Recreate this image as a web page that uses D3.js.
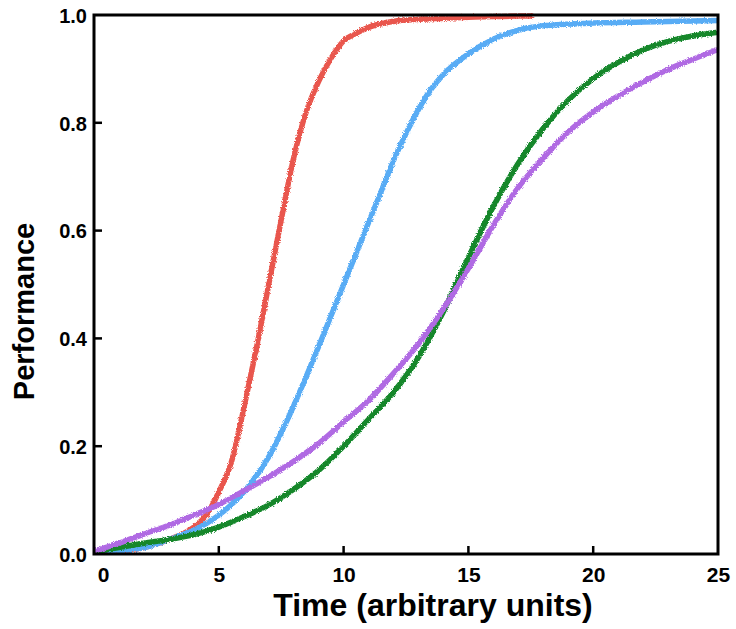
<!DOCTYPE html>
<html>
<head>
<meta charset="utf-8">
<script src="https://cdn.jsdelivr.net/npm/d3@7/dist/d3.min.js"></script>
<style>
  html, body { margin: 0; padding: 0; background: #fff; }
  svg { display: block; }
  text { font-family: "Liberation Sans", Arial, Helvetica, sans-serif; font-weight: bold; fill: #000; }
</style>
</head>
<body>
<svg id="chart" width="736" height="629"></svg>
<script>
// ---- data ----
const redX    = [0, 1, 2, 3, 4, 4.5, 5, 5.5, 6, 6.5, 7, 7.5, 8, 8.5, 9, 9.5, 10, 10.5, 11, 12, 13, 14, 15, 16, 17, 17.6];
const redY    = [0.0, 0.002, 0.012, 0.027, 0.05, 0.072, 0.115, 0.17, 0.27, 0.38, 0.5, 0.62, 0.735, 0.82, 0.877, 0.92, 0.952, 0.966, 0.977, 0.988, 0.992, 0.994, 0.996, 0.997, 0.998, 0.998];

const blueX   = [0, 1, 2, 3, 4, 5, 6, 7, 7.5, 8, 9, 10, 11, 11.5, 12, 12.5, 13, 13.5, 14, 15, 16, 17, 18, 20, 22, 25];
const blueY   = [0.002, 0.006, 0.012, 0.027, 0.044, 0.072, 0.115, 0.18, 0.225, 0.275, 0.385, 0.5, 0.615, 0.672, 0.73, 0.78, 0.825, 0.862, 0.89, 0.928, 0.955, 0.972, 0.98, 0.985, 0.987, 0.99];

const greenX  = [0, 1, 2, 3, 4, 5, 6, 7, 8, 9, 10, 11, 12, 13, 14, 15, 16, 17, 18, 19, 20, 21, 22, 23, 24, 25];
const greenY  = [0.003, 0.012, 0.02, 0.027, 0.036, 0.05, 0.069, 0.091, 0.12, 0.155, 0.2, 0.25, 0.30, 0.365, 0.45, 0.55, 0.645, 0.725, 0.79, 0.842, 0.882, 0.912, 0.935, 0.951, 0.961, 0.968];

const purpleX = [0, 1, 2, 3, 4, 5, 6, 7, 8, 9, 10, 11, 12, 13, 14, 15, 16, 17, 18, 19, 20, 21, 22, 23, 24, 25];
const purpleY = [0.005, 0.02, 0.037, 0.053, 0.072, 0.092, 0.117, 0.143, 0.172, 0.205, 0.245, 0.285, 0.335, 0.39, 0.455, 0.53, 0.61, 0.68, 0.735, 0.783, 0.82, 0.85, 0.876, 0.899, 0.918, 0.936];

const xTicks = [0, 5, 10, 15, 20, 25];
const yTicks = [0.0, 0.2, 0.4, 0.6, 0.8, 1.0];
const xTitle = "Time (arbitrary units)";
const yTitle = "Performance";

const seriesList = [
  { name: "red",    xs: redX,    ys: redY,    color: "#e9574d" },
  { name: "blue",   xs: blueX,   ys: blueY,   color: "#58acf5" },
  { name: "green",  xs: greenX,  ys: greenY,  color: "#12872b" },
  { name: "purple", xs: purpleX, ys: purpleY, color: "#b06ae3" }
];

// ---- layout ----
const W = 736, H = 629;
const margin = { left: 94, right: 18, top: 15, bottom: 75 };
const x = d3.scaleLinear().domain([0, 25]).range([margin.left, W - margin.right]);
const y = d3.scaleLinear().domain([0, 1]).range([H - margin.bottom, margin.top]);

const svg = d3.select("#chart");
const defs = svg.append("defs");
defs.append("clipPath").attr("id", "plotclip")
  .append("rect")
  .attr("x", x(0)).attr("y", y(1) - 2)
  .attr("width", x(25) - x(0)).attr("height", y(0) - y(1) + 2);

const filt = defs.append("filter").attr("id", "fuzz")
  .attr("filterUnits", "userSpaceOnUse")
  .attr("x", 0).attr("y", 0).attr("width", W).attr("height", H);
filt.append("feTurbulence").attr("type", "fractalNoise").attr("baseFrequency", 1.2)
  .attr("numOctaves", 1).attr("seed", 3).attr("result", "noise");
filt.append("feDisplacementMap").attr("in", "SourceGraphic").attr("in2", "noise")
  .attr("scale", 4).attr("xChannelSelector", "R").attr("yChannelSelector", "G");

// ---- lines ----
const line = d3.line().x(d => x(d[0])).y(d => y(d[1])).curve(d3.curveMonotoneX);
const gLines = svg.append("g").attr("clip-path", "url(#plotclip)");
seriesList.forEach(s => {
  const pts = s.xs.map((v, i) => [v, s.ys[i]]);
  gLines.append("path")
    .datum(pts)
    .attr("d", line)
    .attr("fill", "none")
    .attr("stroke", s.color)
    .attr("stroke-width", 5.5)
    .attr("stroke-linejoin", "round")
    .attr("stroke-linecap", "butt")
    .attr("filter", "url(#fuzz)");
});

// ---- axes ----
const xAxis = d3.axisBottom(x).tickValues(xTicks).tickSize(0).tickPadding(0)
  .tickFormat(d3.format("d"));
const gx = svg.append("g").attr("transform", `translate(0,${y(0)})`).call(xAxis);
gx.select(".domain").remove();
gx.selectAll("text")
  .attr("font-size", 21).attr("dy", 0).attr("y", 28)
  .attr("dx", d => d === 0 ? 9 : 0)
  .style("font-family", '"Liberation Sans", Arial, sans-serif').style("font-weight", "bold");

const yAxis = d3.axisLeft(y).tickValues(yTicks).tickSize(0).tickPadding(7)
  .tickFormat(d3.format(".1f"));
const gy = svg.append("g").attr("transform", `translate(${x(0)},0)`).call(yAxis);
gy.select(".domain").remove();
gy.selectAll("text")
  .attr("font-size", 20).attr("dy", "0.36em")
  .style("font-family", '"Liberation Sans", Arial, sans-serif').style("font-weight", "bold");

// inward ticks
svg.append("g").selectAll("line").data(xTicks.filter(t => t > 0 && t < 25)).join("line")
  .attr("x1", d => x(d)).attr("x2", d => x(d))
  .attr("y1", y(0)).attr("y2", y(0) - 8)
  .attr("stroke", "#000").attr("stroke-width", 2.5);
svg.append("g").selectAll("line").data(yTicks.filter(t => t > 0 && t < 1)).join("line")
  .attr("x1", x(0)).attr("x2", x(0) + 8)
  .attr("y1", d => y(d)).attr("y2", d => y(d))
  .attr("stroke", "#000").attr("stroke-width", 2.5);

// frame
svg.append("rect")
  .attr("x", x(0)).attr("y", y(1))
  .attr("width", x(25) - x(0)).attr("height", y(0) - y(1))
  .attr("fill", "none").attr("stroke", "#000").attr("stroke-width", 3);

// titles
svg.append("text")
  .attr("x", 433).attr("y", 616)
  .attr("text-anchor", "middle").attr("font-size", 32)
  .text(xTitle);
svg.append("text")
  .attr("transform", `translate(34,${(y(0) + y(1)) / 2 + 27}) rotate(-90)`)
  .attr("text-anchor", "middle").attr("font-size", 29)
  .text(yTitle);
</script>
</body>
</html>
